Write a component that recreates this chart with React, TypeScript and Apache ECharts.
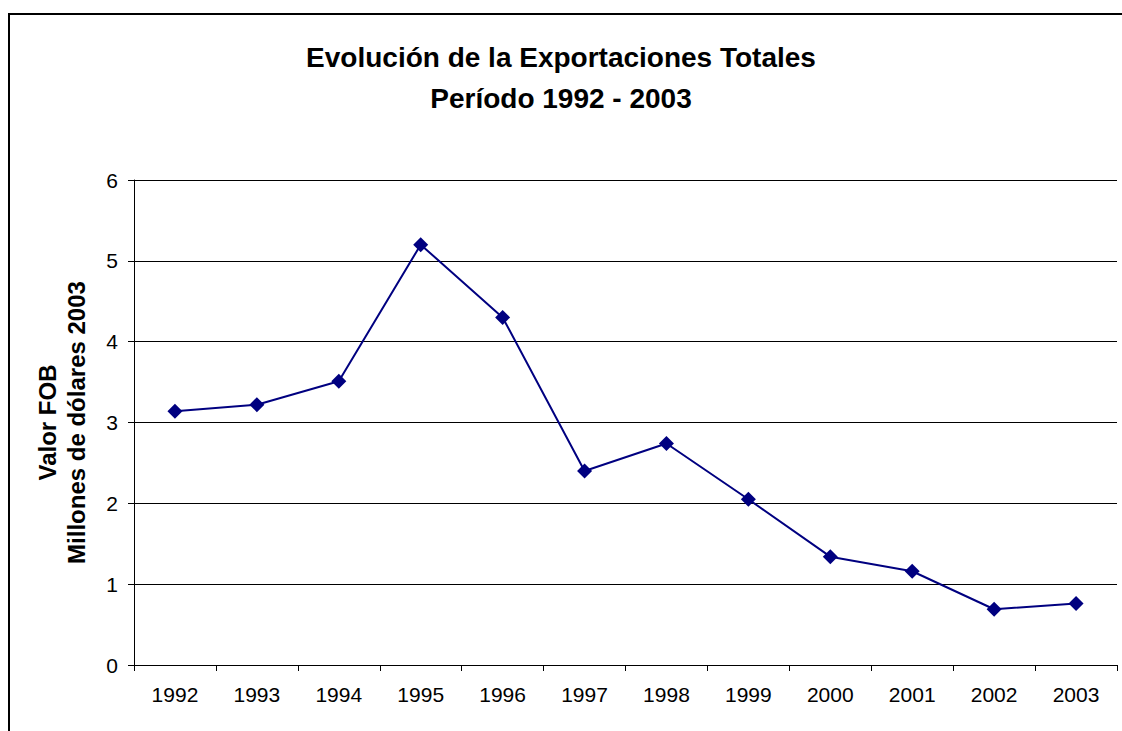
import React, { useEffect, useRef } from "react";
import * as echarts from "echarts";

const titleLines = ["Evolución de la Exportaciones Totales", "Período 1992 - 2003"];
const yAxisNameLines = ["Valor FOB", "Millones de dólares 2003"];
const years = ["1992", "1993", "1994", "1995", "1996", "1997", "1998", "1999", "2000", "2001", "2002", "2003"];
const exportValues = [3.14, 3.22, 3.51, 5.2, 4.3, 2.4, 2.74, 2.05, 1.34, 1.16, 0.69, 0.76];

export default function App() {
  const ref = useRef<HTMLDivElement>(null);
  useEffect(() => {
    if (!ref.current) return;
    const chart = echarts.init(ref.current, null, { renderer: "svg" });
    const font = "'Liberation Sans', Arial, sans-serif";
    chart.setOption({
      animation: false,
      backgroundColor: "#ffffff",
      title: {
        text: titleLines.join("\n"),
        left: "center",
        top: 32,
        textStyle: {
          fontFamily: font,
          fontSize: 28,
          fontWeight: "bold",
          color: "#000",
          lineHeight: 41,
        },
      },
      graphic: [
        {
          type: "polyline",
          shape: { points: [[9, 760], [9, 14], [1140, 14]] },
          style: { fill: "none", stroke: "#000", lineWidth: 2 },
          silent: true,
          z: 100,
        },
      ],
      grid: { left: 134, top: 180, right: 5, bottom: 66, containLabel: false },
      xAxis: {
        type: "category",
        data: years,
        boundaryGap: true,
        axisLine: { show: true, lineStyle: { color: "#000", width: 1 } },
        axisTick: { show: true, alignWithLabel: false, length: 6, lineStyle: { color: "#000" } },
        axisLabel: { color: "#000", fontFamily: font, fontSize: 21, margin: 19 },
        splitLine: { show: false },
      },
      yAxis: {
        type: "value",
        min: 0,
        max: 6,
        interval: 1,
        name: yAxisNameLines.join("\n"),
        nameLocation: "middle",
        nameRotate: 90,
        nameGap: 43,
        nameTextStyle: {
          fontFamily: font,
          fontSize: 24,
          fontWeight: "bold",
          color: "#000",
          lineHeight: 29,
        },
        axisLine: { show: true, lineStyle: { color: "#000", width: 1 } },
        axisTick: { show: true, length: 6, lineStyle: { color: "#000" } },
        axisLabel: { color: "#000", fontFamily: font, fontSize: 21, margin: 16 },
        splitLine: { show: true, lineStyle: { color: "#000", width: 1 } },
      },
      series: [
        {
          type: "line",
          data: exportValues,
          symbol: "diamond",
          symbolSize: 15,
          lineStyle: { color: "#000080", width: 2 },
          itemStyle: { color: "#000080" },
        },
      ],
    });
    return () => chart.dispose();
  }, []);
  return (
    <div
      ref={ref}
      style={{ position: "absolute", left: 0, top: 0, width: 1122, height: 731 }}
    />
  );
}
